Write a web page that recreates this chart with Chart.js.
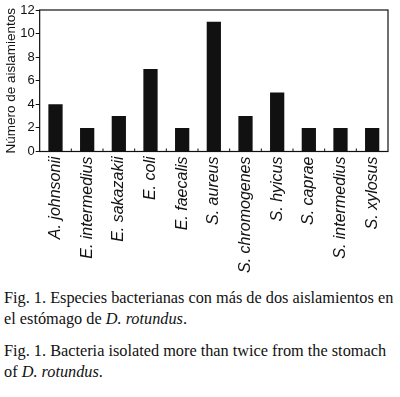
<!DOCTYPE html>
<html>
<head>
<meta charset="utf-8">
<script src="https://cdn.jsdelivr.net/npm/chart.js@4"></script>
<style>
  body { margin: 0; background: #fff; width: 400px; height: 397px; overflow: hidden; }
  #wrap { position: relative; width: 400px; height: 285px; }
  .cap { font-family: "Liberation Serif", "Times New Roman", serif; font-size: 16.3px; line-height: 21px; color: #111; margin: 0 0 0 4px; white-space: nowrap; }
  #cap1 { margin-top: 2px; }
  #cap2 { margin-top: 11px; }
</style>
</head>
<body>
<div id="wrap"><canvas id="chart"></canvas></div>
<p class="cap" id="cap1">Fig. 1. Especies bacterianas con más de dos aislamientos en<br>el estómago de <i>D. rotundus</i>.</p>
<p class="cap" id="cap2">Fig. 1. Bacteria isolated more than twice from the stomach<br>of <i>D. rotundus</i>.</p>
<script>
// Isolation counts per species
const species = ['A. johnsonii', 'E. intermedius', 'E. sakazakii', 'E. coli', 'E. faecalis',
  'S. aureus', 'S. chromogenes', 'S. hyicus', 'S. caprae', 'S. intermedius', 'S. xylosus'];
const isolates = [4, 2, 3, 7, 2, 11, 3, 5, 2, 2, 2];
const yTicks = [0, 2, 4, 6, 8, 10, 12];

// frame around the plot + small ticks between categories
const framePlugin = {
  id: 'frame',
  afterDraw(chart) {
    const { ctx, chartArea: a, scales } = chart;
    ctx.save();
    ctx.strokeStyle = '#111';
    ctx.lineWidth = 1.2;
    ctx.strokeRect(a.left, a.top, a.right - a.left, a.bottom - a.top);
    ctx.lineWidth = 1;
    for (let i = 0; i < species.length - 1; i++) {
      const x = (scales.x.getPixelForValue(i) + scales.x.getPixelForValue(i + 1)) / 2;
      ctx.beginPath();
      ctx.moveTo(x, a.bottom);
      ctx.lineTo(x, a.bottom - 3);
      ctx.stroke();
    }
    ctx.restore();
  }
};

new Chart(document.getElementById('chart'), {
  type: 'bar',
  data: {
    labels: species,
    datasets: [{
      data: isolates,
      backgroundColor: '#111',
      borderWidth: 0,
      barPercentage: 0.45,
      categoryPercentage: 1
    }]
  },
  options: {
    responsive: true,
    maintainAspectRatio: false,
    animation: false,
    layout: { padding: { top: 10, right: 12, left: 3, bottom: 7 } },
    plugins: { legend: { display: false }, tooltip: { enabled: false } },
    scales: {
      x: {
        grid: { display: false, drawTicks: false },
        border: { display: false },
        ticks: {
          color: '#111',
          minRotation: 90,
          maxRotation: 90,
          autoSkip: false,
          padding: 5,
          font: { family: 'Liberation Sans, Arial, sans-serif', size: 16, style: 'italic' }
        }
      },
      y: {
        min: 0,
        max: 12,
        afterBuildTicks: axis => { axis.ticks = yTicks.map(v => ({ value: v })); },
        grid: { drawOnChartArea: false, drawTicks: true, tickLength: 4, color: '#111', lineWidth: 1 },
        border: { display: false },
        ticks: {
          color: '#111',
          padding: 1,
          font: { family: 'Liberation Sans, Arial, sans-serif', size: 13 }
        },
        title: {
          display: true,
          text: 'Número de aislamientos',
          color: '#111',
          padding: { top: 0, bottom: 0 },
          font: { family: 'Liberation Sans, Arial, sans-serif', size: 13.5 }
        }
      }
    }
  },
  plugins: [framePlugin]
});
</script>
</body>
</html>
